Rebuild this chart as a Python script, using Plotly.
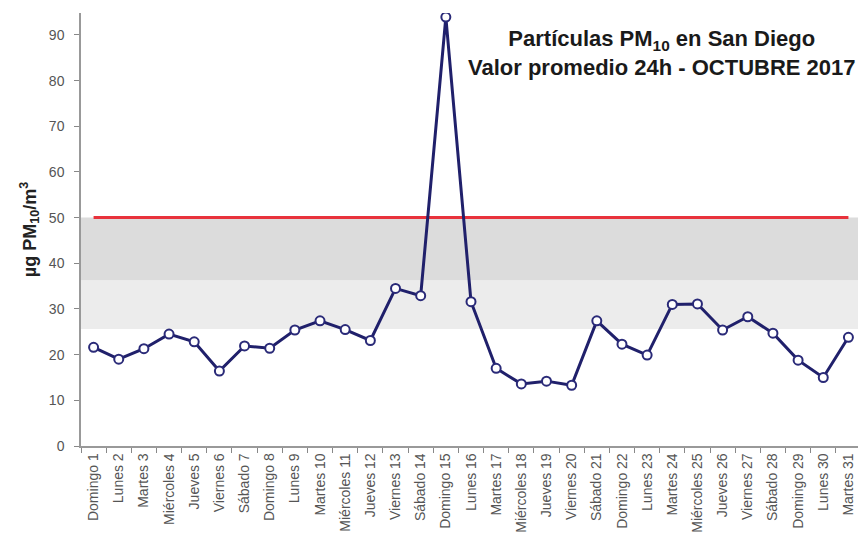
import plotly.graph_objects as go

# datos diarios PM10 - octubre 2017
dias = ["Domingo", "Lunes", "Martes", "Miércoles", "Jueves", "Viernes", "Sábado"]
etiquetas = [f"{dias[i % 7]} {i + 1}" for i in range(31)]
pm10 = [21.6, 19.0, 21.3, 24.5, 22.8, 16.4, 21.9, 21.4, 25.4, 27.4,
        25.5, 23.1, 34.5, 32.9, 93.9, 31.6, 17.0, 13.6, 14.2, 13.3,
        27.4, 22.3, 19.9, 31.0, 31.1, 25.4, 28.3, 24.7, 18.8, 15.0, 23.8]

limite = 50
banda_alta = [36.3, 50]
banda_media = [25.6, 36.3]

fig = go.Figure()

# bandas grises de fondo
fig.add_shape(type="rect", xref="paper", x0=0, x1=1, y0=banda_media[0], y1=banda_media[1],
              fillcolor="#ececec", line_width=0, layer="below")
fig.add_shape(type="rect", xref="paper", x0=0, x1=1, y0=banda_alta[0], y1=banda_alta[1],
              fillcolor="#dcdcdc", line_width=0, layer="below")

fig.add_trace(go.Scatter(x=etiquetas, y=[limite] * len(etiquetas), mode="lines",
                         line=dict(color="#e8323c", width=3), hoverinfo="skip"))

fig.add_trace(go.Scatter(x=etiquetas, y=pm10, mode="lines+markers",
                         line=dict(color="#20206b", width=3),
                         marker=dict(size=9, color="white", line=dict(color="#2a2a78", width=2))))

fig.add_annotation(text="<b>Partículas PM<sub>10</sub> en San Diego<br>Valor promedio 24h - OCTUBRE 2017</b>",
                   xref="paper", yref="paper", x=0.745, y=0.975, xanchor="center", yanchor="top",
                   showarrow=False, font=dict(size=22, color="#1a1a1a", family="Liberation Sans"))

# la página tiene 8px de margen, así que la figura se ajusta a 858x532
fig.update_layout(
    width=858, height=532,
    margin=dict(l=73, r=5, t=5, b=94),
    plot_bgcolor="white", paper_bgcolor="white",
    showlegend=False,
    font=dict(family="Liberation Sans", color="#555555"),
)
fig.update_xaxes(type="category", range=[-0.5, len(etiquetas) - 0.5], tickson="boundaries",
                 ticks="outside", ticklen=5,
                 tickcolor="#888888", showline=True, linecolor="#999999", linewidth=1.5,
                 showgrid=False, tickangle=-90, tickfont=dict(size=14, color="#555555"),
                 automargin=False)
fig.update_yaxes(range=[0, 94.8], dtick=10, ticks="outside", ticklen=5, tickcolor="#888888",
                 showline=True, linecolor="#999999", linewidth=1.5, showgrid=False, zeroline=False,
                 tickfont=dict(size=14, color="#555555"), ticklabelstandoff=7,
                 title=dict(text="<b>µg PM<sub>10</sub>/m<sup>3</sup></b>",
                            font=dict(size=18, color="#222222"), standoff=8),
                 automargin=False)

fig.write_html("out.html")
